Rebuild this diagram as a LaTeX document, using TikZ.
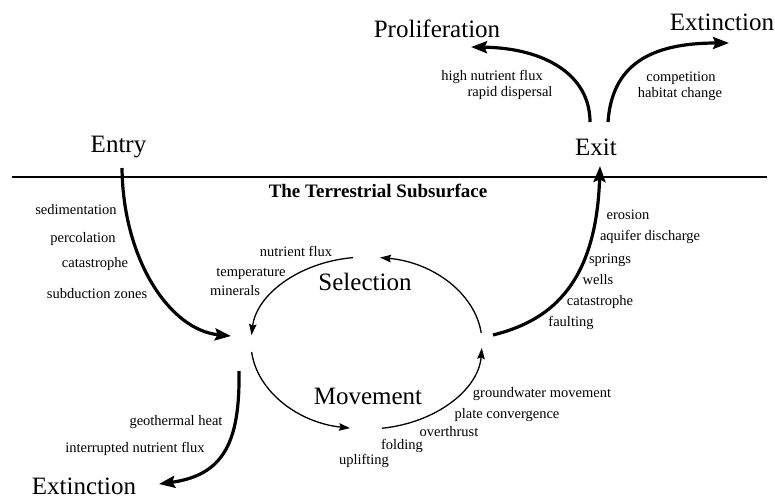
\documentclass[tikz,border=0pt]{standalone}
\usepackage{fontspec}
\setmainfont{Liberation Serif}
\usetikzlibrary{arrows.meta,calc}
\begin{document}
\begin{tikzpicture}[x=1pt,y=-1pt,
  big/.style={font=\fontsize{25}{30}\selectfont, inner sep=0pt, text height=17.5pt, text depth=5pt},
  lbl/.style={font=\fontsize{14.5}{17}\selectfont, inner sep=0pt, text height=10pt, text depth=3pt},
  title/.style={font=\fontsize{19}{23}\selectfont\bfseries, inner sep=0pt, text height=13pt, text depth=4pt},
  thickarr/.style={line width=3.2pt, -{Stealth[length=16pt,width=12pt,inset=2.5pt]}},
  thinarr/.style={line width=1.3pt, -{Stealth[length=11pt,width=7.5pt,inset=1.5pt]}},
  surface/.style={line width=1.3pt}]
\useasboundingbox (0,0) rectangle (775,501);

% ground surface
\coordinate (gl) at (12,177);
\coordinate (gr) at (767,177);
\draw[surface] (gl) -- (gr);
\node[title] (sub) at (378,193) {The Terrestrial Subsurface};

% main stage labels
\node[big] (entry) at (118.5,146) {Entry};
\node[big] (exit) at (596,149) {Exit};
\node[big] (prolif) at (437,31) {Proliferation};
\node[big] (extR) at (722,24) {Extinction};
\node[big] (sel) at (365,284) {Selection};
\node[big] (mov) at (368,398) {Movement};
\node[big] (extL) at (84,488) {Extinction};

% free ends of the thick arrows
\coordinate (entryS) at (122,168);
\coordinate (entryE) at (231,336);
\coordinate (exitS) at (493,335);
\coordinate (exitE) at (600,166);
\coordinate (prolS) at (590,122);
\coordinate (prolE) at (471,47);
\coordinate (extRS) at (608,122);
\coordinate (extRE) at (729,43);
\coordinate (extLS) at (239,371);
\coordinate (extLE) at (159,484);

\draw[thickarr] (entryS) .. controls (123,260) and (170,330) .. (entryE);
\draw[thickarr] (exitS) .. controls (545,322) and (596,290) .. (exitE);
\draw[thickarr] (prolS) .. controls (590,75) and (545,48) .. (prolE);
\draw[thickarr] (extRS) .. controls (612,65) and (650,43) .. (extRE);
\draw[thickarr] (extLS) .. controls (240,440) and (225,475) .. (extLE);

% selection / movement cycle
\coordinate (cyc) at (366.5,343);
\draw[thinarr] ($(cyc)+(96.7:115.5pt and 86pt)$) arc[start angle=96.7, end angle=174.7, x radius=115.5pt, y radius=86pt];
\draw[thinarr] ($(cyc)+(186:115.5pt and 86pt)$) arc[start angle=186, end angle=261.8, x radius=115.5pt, y radius=86pt];
\draw[thinarr] ($(cyc)+(277.7:115.5pt and 86pt)$) arc[start angle=277.7, end angle=356.7, x radius=115.5pt, y radius=86pt];
\draw[thinarr] ($(cyc)+(6.7:115.5pt and 86pt)$) arc[start angle=6.7, end angle=83.3, x radius=115.5pt, y radius=86pt];

% entry mechanisms
\node[lbl] (l1) at (76,211) {sedimentation};
\node[lbl] (l2) at (83,239) {percolation};
\node[lbl] (l3) at (95,264) {catastrophe};
\node[lbl] (l4) at (97,295) {subduction zones};

% selection factors
\node[lbl] (s1) at (296,253) {nutrient flux};
\node[lbl] (s2) at (251,273) {temperature};
\node[lbl] (s3) at (235,292) {minerals};

% exit mechanisms
\node[lbl] (x1) at (628,216) {erosion};
\node[lbl] (x2) at (650,237) {aquifer discharge};
\node[lbl] (x3) at (610,260) {springs};
\node[lbl] (x4) at (598,281) {wells};
\node[lbl] (x5) at (600,302) {catastrophe};
\node[lbl] (x6) at (571,323) {faulting};

% movement mechanisms
\node[lbl] (m1) at (542,394) {groundwater movement};
\node[lbl] (m2) at (507,415) {plate convergence};
\node[lbl] (m3) at (449,433) {overthrust};
\node[lbl] (m4) at (402,446) {folding};
\node[lbl] (m5) at (364,461) {uplifting};

% subsurface extinction causes
\node[lbl] (e1) at (176,422) {geothermal heat};
\node[lbl] (e2) at (135,449) {interrupted nutrient flux};

% fates after exit
\node[lbl] (p1) at (492,77) {high nutrient flux};
\node[lbl] (p2) at (510,93) {rapid dispersal};
\node[lbl] (c1) at (681,78) {competition};
\node[lbl] (c2) at (680,94) {habitat change};
\end{tikzpicture}
\end{document}
